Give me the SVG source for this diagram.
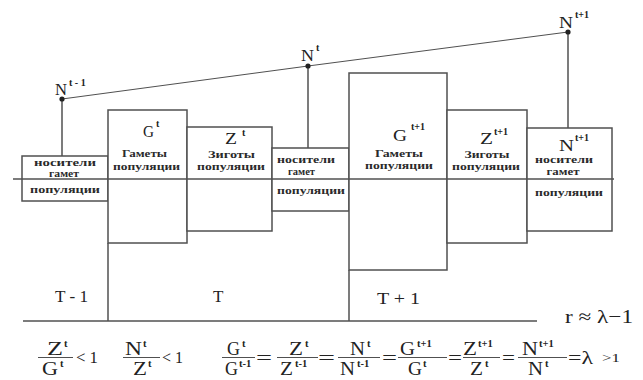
<svg xmlns="http://www.w3.org/2000/svg" width="643" height="380" viewBox="0 0 643 380" font-family="Liberation Serif, DejaVu Serif, serif">
<style>
.ln{stroke:#505050;stroke-width:1.5;fill:none}
.bx{stroke:#505050;stroke-width:1.5;fill:#fff}
.lb{font-size:11px;font-weight:bold;fill:#2a2a2a;text-anchor:middle}
.bg{font-size:16px;fill:#222}
.sp{font-size:10px;font-weight:bold;fill:#222}
.fm{font-size:19px;fill:#222}
.fs{font-size:10.5px;font-weight:bold;fill:#222}
.dot{fill:#222}
</style>
<rect width="643" height="380" fill="#fff"/>

<g id="connectors">
<polyline class="ln" points="62,99 308,66 568,32" style="stroke-width:1"/>
<line class="ln" x1="62" y1="99" x2="62" y2="156"/>
<line class="ln" x1="308" y1="66" x2="308" y2="148"/>
<line class="ln" x1="568" y1="32" x2="568" y2="128"/>
</g>

<g id="box-N-t-1">
<rect class="bx" x="22" y="156" width="86" height="45"/>
<text class="lb" x="65" y="166" textLength="62" lengthAdjust="spacingAndGlyphs">носители</text>
<text class="lb" x="64" y="176.5" textLength="30" lengthAdjust="spacingAndGlyphs">гамет</text>
<text class="lb" x="65" y="193" textLength="70" lengthAdjust="spacingAndGlyphs">популяции</text>
</g>

<g id="box-G-t">
<rect class="bx" x="108" y="110" width="79" height="133"/>
<text class="bg" x="143" y="137" textLength="11" lengthAdjust="spacingAndGlyphs">G</text>
<text class="sp" x="156" y="127">t</text>
<text class="lb" x="144.5" y="157" textLength="45" lengthAdjust="spacingAndGlyphs">Гаметы</text>
<text class="lb" x="146.5" y="170" textLength="67" lengthAdjust="spacingAndGlyphs">популяции</text>
</g>

<g id="box-Z-t">
<rect class="bx" x="187" y="127" width="85" height="104"/>
<text class="bg" x="225" y="144" textLength="12" lengthAdjust="spacingAndGlyphs">Z</text>
<text class="sp" x="242" y="136">t</text>
<text class="lb" x="231.5" y="158" textLength="47" lengthAdjust="spacingAndGlyphs">Зиготы</text>
<text class="lb" x="231" y="169.5" textLength="68" lengthAdjust="spacingAndGlyphs">популяции</text>
</g>

<g id="box-N-t">
<rect class="bx" x="272" y="148" width="77" height="63"/>
<text class="lb" x="306" y="163" textLength="58" lengthAdjust="spacingAndGlyphs">носители</text>
<text class="lb" x="301.5" y="175" textLength="27" lengthAdjust="spacingAndGlyphs">гамет</text>
<text class="lb" x="311" y="194" textLength="68" lengthAdjust="spacingAndGlyphs">популяции</text>
</g>

<g id="box-G-t1">
<rect class="bx" x="349" y="73" width="98" height="197"/>
<text class="bg" x="393" y="141" textLength="14" lengthAdjust="spacingAndGlyphs">G</text>
<text class="sp" x="411" y="130">t+1</text>
<text class="lb" x="399" y="157" textLength="48" lengthAdjust="spacingAndGlyphs">Гаметы</text>
<text class="lb" x="399" y="169" textLength="68" lengthAdjust="spacingAndGlyphs">популяции</text>
</g>

<g id="box-Z-t1">
<rect class="bx" x="447" y="110" width="80" height="133"/>
<text class="bg" x="480" y="144" textLength="13" lengthAdjust="spacingAndGlyphs">Z</text>
<text class="sp" x="494" y="135">t+1</text>
<text class="lb" x="487" y="158" textLength="45" lengthAdjust="spacingAndGlyphs">Зиготы</text>
<text class="lb" x="486" y="169.5" textLength="68" lengthAdjust="spacingAndGlyphs">популяции</text>
</g>

<g id="box-N-t1">
<rect class="bx" x="527" y="128" width="85" height="103"/>
<text class="bg" x="559" y="151" textLength="15" lengthAdjust="spacingAndGlyphs">N</text>
<text class="sp" x="575" y="141">t+1</text>
<text class="lb" x="564" y="163" textLength="58" lengthAdjust="spacingAndGlyphs">носители</text>
<text class="lb" x="563" y="175" textLength="33" lengthAdjust="spacingAndGlyphs">гамет</text>
<text class="lb" x="569" y="196" textLength="68" lengthAdjust="spacingAndGlyphs">популяции</text>
</g>

<g id="axes">
<line class="ln" x1="13" y1="179" x2="614" y2="179"/>
<line class="ln" x1="108" y1="243" x2="108" y2="321"/>
<line class="ln" x1="349" y1="270" x2="349" y2="321"/>
<line class="ln" x1="23" y1="321" x2="537" y2="321"/>
</g>

<g id="points">
<circle class="dot" cx="62" cy="99" r="2.6"/>
<circle class="dot" cx="308" cy="66" r="2.6"/>
<circle class="dot" cx="568" cy="32" r="2.6"/>
<text class="bg" x="55" y="95" style="font-size:17px" textLength="12" lengthAdjust="spacingAndGlyphs">N</text>
<text class="sp" x="69" y="86">t - 1</text>
<text class="bg" x="301" y="61" style="font-size:17px" textLength="13" lengthAdjust="spacingAndGlyphs">N</text>
<text class="sp" x="316" y="51">t</text>
<text class="bg" x="559" y="28" style="font-size:17px" textLength="14" lengthAdjust="spacingAndGlyphs">N</text>
<text class="sp" x="575" y="18">t+1</text>
</g>

<g id="periods">
<text class="bg" x="55" y="302" style="font-size:17px" textLength="33" lengthAdjust="spacingAndGlyphs">T - 1</text>
<text class="bg" x="213" y="302" style="font-size:17px">T</text>
<text class="bg" x="377" y="304" style="font-size:17px" textLength="43" lengthAdjust="spacingAndGlyphs">T + 1</text>
<text class="fm" x="565" y="323" textLength="68" lengthAdjust="spacingAndGlyphs">r ≈ λ−1</text>
</g>

<g id="formulas">
<line class="ln" x1="38" y1="357.5" x2="73" y2="357.5" style="stroke-width:1"/>
<text class="fm" x="47" y="355" textLength="16" lengthAdjust="spacingAndGlyphs">Z</text><text class="fs" x="64" y="347">t</text>
<text class="fm" x="42" y="375" textLength="16" lengthAdjust="spacingAndGlyphs">G</text><text class="fs" x="60" y="367">t</text>
<text class="fm" x="76" y="363" style="font-size:17px" textLength="22" lengthAdjust="spacingAndGlyphs">&lt; 1</text>

<line class="ln" x1="123" y1="357.5" x2="160" y2="357.5" style="stroke-width:1"/>
<text class="fm" x="125" y="355" textLength="17" lengthAdjust="spacingAndGlyphs">N</text><text class="fs" x="143" y="347">t</text>
<text class="fm" x="133" y="375" textLength="14" lengthAdjust="spacingAndGlyphs">Z</text><text class="fs" x="148" y="367">t</text>
<text class="fm" x="162" y="363" style="font-size:17px" textLength="21" lengthAdjust="spacingAndGlyphs">&lt; 1</text>

<line class="ln" x1="222" y1="357.5" x2="255" y2="357.5" style="stroke-width:1"/>
<text class="fm" x="227" y="355" textLength="13" lengthAdjust="spacingAndGlyphs">G</text><text class="fs" x="242" y="347">t</text>
<text class="fm" x="225" y="375" textLength="13" lengthAdjust="spacingAndGlyphs">G</text><text class="fs" x="239" y="367">t-1</text>
<text class="fm" x="256" y="364" textLength="16" lengthAdjust="spacingAndGlyphs">=</text>

<line class="ln" x1="277" y1="357.5" x2="318" y2="357.5" style="stroke-width:1"/>
<text class="fm" x="289" y="355" textLength="14" lengthAdjust="spacingAndGlyphs">Z</text><text class="fs" x="305" y="347">t</text>
<text class="fm" x="280" y="375" textLength="13" lengthAdjust="spacingAndGlyphs">Z</text><text class="fs" x="295" y="367">t-1</text>
<text class="fm" x="318" y="364" textLength="17" lengthAdjust="spacingAndGlyphs">=</text>

<line class="ln" x1="338" y1="357.5" x2="380" y2="357.5" style="stroke-width:1"/>
<text class="fm" x="350" y="355" textLength="15" lengthAdjust="spacingAndGlyphs">N</text><text class="fs" x="367" y="347">t</text>
<text class="fm" x="340" y="375" textLength="15" lengthAdjust="spacingAndGlyphs">N</text><text class="fs" x="357" y="367">t-1</text>
<text class="fm" x="382" y="364" textLength="15" lengthAdjust="spacingAndGlyphs">=</text>

<line class="ln" x1="398" y1="357.5" x2="447" y2="357.5" style="stroke-width:1"/>
<text class="fm" x="400" y="355" textLength="15" lengthAdjust="spacingAndGlyphs">G</text><text class="fs" x="417" y="347">t+1</text>
<text class="fm" x="408" y="375" textLength="14" lengthAdjust="spacingAndGlyphs">G</text><text class="fs" x="423" y="367">t</text>
<text class="fm" x="448" y="364" textLength="14" lengthAdjust="spacingAndGlyphs">=</text>

<line class="ln" x1="463" y1="357.5" x2="500" y2="357.5" style="stroke-width:1"/>
<text class="fm" x="463" y="355" textLength="14" lengthAdjust="spacingAndGlyphs">Z</text><text class="fs" x="478" y="347">t+1</text>
<text class="fm" x="470" y="375" textLength="13" lengthAdjust="spacingAndGlyphs">Z</text><text class="fs" x="485" y="367">t</text>
<text class="fm" x="502" y="364" textLength="13" lengthAdjust="spacingAndGlyphs">=</text>

<line class="ln" x1="518" y1="357.5" x2="567" y2="357.5" style="stroke-width:1"/>
<text class="fm" x="522" y="355" textLength="16" lengthAdjust="spacingAndGlyphs">N</text><text class="fs" x="539" y="347">t+1</text>
<text class="fm" x="528" y="375" textLength="15" lengthAdjust="spacingAndGlyphs">N</text><text class="fs" x="545" y="367">t</text>
<text class="fm" x="568" y="364" textLength="25" lengthAdjust="spacingAndGlyphs">=λ</text>
<text class="fm" x="602" y="362" style="font-size:12px" textLength="18" lengthAdjust="spacingAndGlyphs">&gt;1</text>
</g>
</svg>
